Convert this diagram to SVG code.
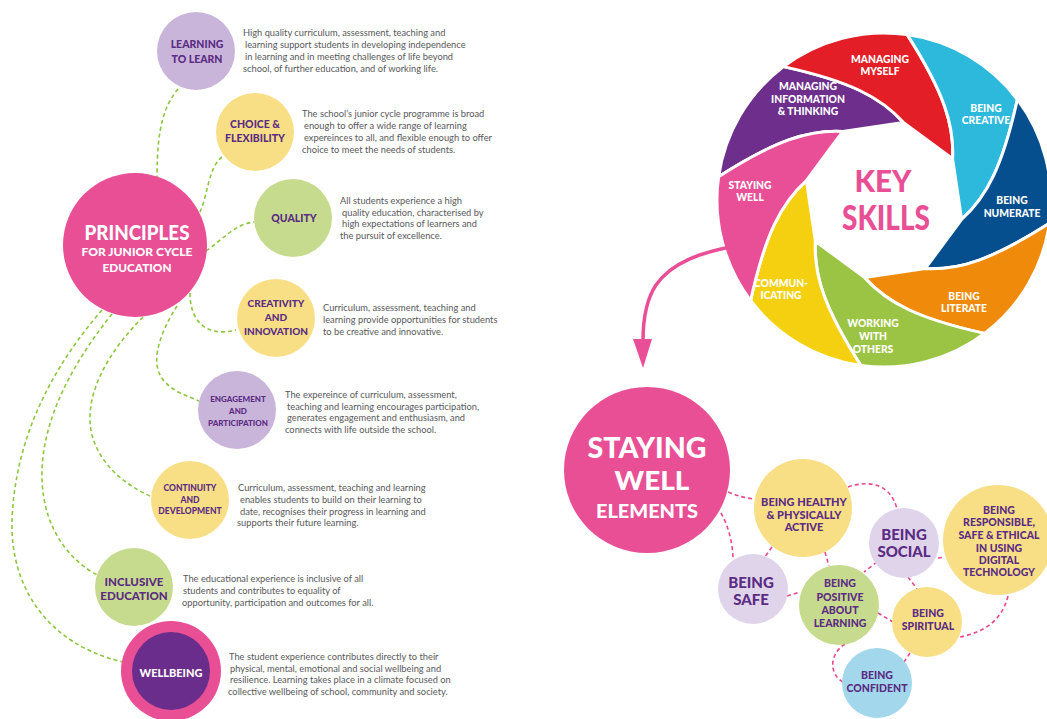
<svg xmlns="http://www.w3.org/2000/svg" xmlns:xlink="http://www.w3.org/1999/xlink" width="1047" height="719" viewBox="0 0 1047 719">
<style>
.lbl{font-family:Lato,"Open Sans","Liberation Sans",sans-serif;font-weight:900;fill:#5B2C83;text-anchor:middle}
.wl{font-family:Lato,"Open Sans","Liberation Sans",sans-serif;font-weight:900;fill:#ffffff;text-anchor:middle;font-size:10.3px}
.desc{font-family:Lato,"Liberation Sans",sans-serif;font-size:9.3px;fill:#58585a}
.gc{fill:none;stroke:#8DC63F;stroke-width:1.6;stroke-dasharray:4 3}
.pc{fill:none;stroke:#E5488D;stroke-width:1.6;stroke-dasharray:4 3}
.blade{stroke:#ffffff;stroke-width:3;stroke-linejoin:miter}
.lav{fill:#C9B5DA}.yel{fill:#F8DF86}.grn{fill:#C6DB8D}.lav2{fill:#E0D4EA}.blu{fill:#A2D7EC}
.title{font-family:Lato,"Open Sans","Liberation Sans",sans-serif;font-weight:900;fill:#ffffff;text-anchor:middle}
</style>
<defs>
<path id="blade" d="M -17.5,-166.1 C 31.8,-119.5 50.2,-89.8 56.6,-56.6 L 80,0 C 99,-28 107,-62 105.1,-129.8 A 167 167 0 0 0 -17.5,-166.1 Z"/>
</defs>
<rect width="1047" height="719" fill="#ffffff"/>

<!-- LEFT connectors -->
<g id="principle-connectors">
<path class="gc" d="M 178,89 C 165,105 157,125 157,177"/>
<path class="gc" d="M 222,157 C 208,168 208,195 200,212"/>
<path class="gc" d="M 206,251 C 222,240 235,224 254,222"/>
<path class="gc" d="M 190,293 C 190,320 205,338 236,330"/>
<path class="gc" d="M 177,306 C 165,325 150,355 160,375 C 168,390 185,395 199,401"/>
<path class="gc" d="M 143,317 C 110,350 82,395 92,435 C 100,465 125,485 152,497"/>
<path class="gc" d="M 112,314 C 75,360 40,420 42,480 C 44,530 70,560 97,575"/>
<path class="gc" d="M 102,310 C 50,370 15,440 12,520 C 10,590 50,645 123,662"/>
</g>

<g id="principles">
<circle cx="135" cy="245" r="72" fill="#E84F95"/>
<text class="title" x="137" y="240" font-size="20" textLength="105" lengthAdjust="spacingAndGlyphs">PRINCIPLES</text>
<text class="title" x="137" y="256" font-size="12" textLength="111" lengthAdjust="spacingAndGlyphs">FOR JUNIOR CYCLE</text>
<text class="title" x="137" y="272" font-size="12" textLength="69" lengthAdjust="spacingAndGlyphs">EDUCATION</text>
</g>

<g id="learning-to-learn">
<circle class="lav" cx="196" cy="51" r="39"/>
<text class="lbl" font-size="10.5" x="197" y="48">LEARNING</text>
<text class="lbl" font-size="10.5" x="197" y="63">TO LEARN</text>
<text class="desc"><tspan x="243" y="36">High quality curriculum, assessment, teaching and</tspan><tspan x="245" y="48">learning support students in developing independence</tspan><tspan x="245" y="60">in learning and in meeting challenges of life beyond</tspan><tspan x="243" y="72">school, of further education, and of working life.</tspan></text>
</g>

<g id="choice-flexibility">
<circle class="yel" cx="255" cy="132" r="39"/>
<text class="lbl" font-size="10.5" x="255" y="128">CHOICE &amp;</text>
<text class="lbl" font-size="10.5" x="255" y="142">FLEXIBILITY</text>
<text class="desc"><tspan x="302" y="117">The school’s junior cycle programme is broad</tspan><tspan x="304" y="129">enough to offer a wide range of learning</tspan><tspan x="304" y="141">expereinces to all, and flexible enough to offer</tspan><tspan x="302" y="153">choice to meet the needs of students.</tspan></text>
</g>

<g id="quality">
<circle class="grn" cx="293" cy="218" r="39"/>
<text class="lbl" font-size="10.5" x="294" y="222">QUALITY</text>
<text class="desc"><tspan x="340" y="204">All students experience a high</tspan><tspan x="342" y="216">quality education, characterised by</tspan><tspan x="342" y="227">high expectations of learners and</tspan><tspan x="340" y="239">the pursuit of excellence.</tspan></text>
</g>

<g id="creativity-innovation">
<circle class="yel" cx="276" cy="318" r="39"/>
<text class="lbl" font-size="10" x="276" y="306.5">CREATIVITY</text>
<text class="lbl" font-size="10" x="276" y="320.5">AND</text>
<text class="lbl" font-size="10" x="276" y="334.5">INNOVATION</text>
<text class="desc"><tspan x="323" y="311">Curriculum, assessment, teaching and</tspan><tspan x="323" y="323">learning provide opportunities for students</tspan><tspan x="323" y="335">to be creative and innovative.</tspan></text>
</g>

<g id="engagement-participation">
<circle class="lav" cx="237" cy="410" r="39"/>
<text class="lbl" font-size="8" x="238" y="402">ENGAGEMENT</text>
<text class="lbl" font-size="8" x="238" y="414">AND</text>
<text class="lbl" font-size="8" x="238" y="426">PARTICIPATION</text>
<text class="desc"><tspan x="285" y="398">The expereince of curriculum, assessment,</tspan><tspan x="287" y="410">teaching and learning encourages participation,</tspan><tspan x="287" y="421">generates engagement and enthusiasm, and</tspan><tspan x="285" y="433">connects with life outside the school.</tspan></text>
</g>

<g id="continuity-development">
<circle class="yel" cx="190" cy="500" r="39"/>
<text class="lbl" font-size="8.5" x="190" y="491">CONTINUITY</text>
<text class="lbl" font-size="8.5" x="190" y="503">AND</text>
<text class="lbl" font-size="8.5" x="190" y="514">DEVELOPMENT</text>
<text class="desc"><tspan x="238" y="491">Curriculum, assessment, teaching and learning</tspan><tspan x="240" y="503">enables students to build on their learning to</tspan><tspan x="240" y="515">date, recognises their progress in learning and</tspan><tspan x="237" y="526">supports their future learning.</tspan></text>
</g>

<g id="inclusive-education">
<circle class="grn" cx="134" cy="587" r="39"/>
<text class="lbl" font-size="11.5" x="134" y="586">INCLUSIVE</text>
<text class="lbl" font-size="11.5" x="134" y="600">EDUCATION</text>
<text class="desc"><tspan x="183" y="582">The educational experience is inclusive of all</tspan><tspan x="183" y="594">students and contributes to equality of</tspan><tspan x="182" y="606">opportunity, participation and outcomes for all.</tspan></text>
</g>

<g id="wellbeing">
<circle cx="171" cy="671" r="50" fill="#E84F95"/>
<circle cx="171" cy="671" r="39" fill="#6B2D8B"/>
<text class="title" font-size="11" x="171" y="677">WELLBEING</text>
<text class="desc"><tspan x="229" y="660">The student experience contributes directly to their</tspan><tspan x="230" y="672">physical, mental, emotional and social wellbeing and</tspan><tspan x="230" y="683">resilience. Learning takes place in a climate focused on</tspan><tspan x="228" y="695">collective wellbeing of school, community and society.</tspan></text>
</g>

<!-- KEY SKILLS wheel -->
<g id="key-skills">
<g transform="translate(884,200)">
<use xlink:href="#blade" class="blade" fill="#6D2E8C" transform="rotate(-76)"/>
<use xlink:href="#blade" class="blade" fill="#E31E26" transform="rotate(-31)"/>
<use xlink:href="#blade" class="blade" fill="#2CB9DB" transform="rotate(14)"/>
<use xlink:href="#blade" class="blade" fill="#064F8F" transform="rotate(59)"/>
<use xlink:href="#blade" class="blade" fill="#F08A0A" transform="rotate(104)"/>
<use xlink:href="#blade" class="blade" fill="#9CC444" transform="rotate(149)"/>
<use xlink:href="#blade" class="blade" fill="#F5D010" transform="rotate(194)"/>
<use xlink:href="#blade" class="blade" fill="#E84F96" transform="rotate(239)"/>
</g>
<text class="title" style="fill:#E84F95" font-size="30" x="883" y="192" textLength="57" lengthAdjust="spacingAndGlyphs">KEY</text>
<text class="title" style="fill:#E84F95" font-size="34" x="886" y="230" textLength="88" lengthAdjust="spacingAndGlyphs">SKILLS</text>
<text class="wl" x="808" y="89.5">MANAGING</text>
<text class="wl" x="808" y="102.5">INFORMATION</text>
<text class="wl" x="808" y="114.5">&amp; THINKING</text>
<text class="wl" x="880" y="62.5">MANAGING</text>
<text class="wl" x="880" y="74.5">MYSELF</text>
<text class="wl" x="986" y="111.5">BEING</text>
<text class="wl" x="986" y="123.5">CREATIVE</text>
<text class="wl" x="1012" y="203.5">BEING</text>
<text class="wl" x="1012" y="216.5">NUMERATE</text>
<text class="wl" x="964" y="299.5">BEING</text>
<text class="wl" x="964" y="311.5">LITERATE</text>
<text class="wl" x="873" y="326.5">WORKING</text>
<text class="wl" x="873" y="339.5">WITH</text>
<text class="wl" x="873" y="352.5">OTHERS</text>
<text class="wl" x="781" y="286.5">COMMUN-</text>
<text class="wl" x="781" y="298.5">ICATING</text>
<text class="wl" x="750" y="188.5">STAYING</text>
<text class="wl" x="750" y="200.5">WELL</text>
</g>

<g id="arrow">
<path d="M 736,246 C 702,252 672,262 656,285 C 646,300 643,320 643,341" fill="none" stroke="#E84F96" stroke-width="3.5"/>
<polygon points="633,339 652,339 643,368" fill="#E84F96"/>
</g>

<!-- Staying well connectors -->
<g id="wellbeing-connectors">
<path class="pc" d="M 728,492 Q 742,498 755,499"/>
<path class="pc" d="M 721,513 C 729,527 733,545 733,560"/>
<path class="pc" d="M 848,487 C 865,481 890,481 897,509"/>
<path class="pc" d="M 772,547 L 764,558"/>
<path class="pc" d="M 825,552 L 829,566"/>
<path class="pc" d="M 787,596 L 800,592"/>
<path class="pc" d="M 877,562 L 864,572"/>
<path class="pc" d="M 938,558 L 945,557"/>
<path class="pc" d="M 908,577 L 917,589"/>
<path class="pc" d="M 878,613 L 893,622"/>
<path class="pc" d="M 845,644 C 828,655 830,675 843,682"/>
<path class="pc" d="M 910,653 L 904,662"/>
<path class="pc" d="M 1008,596 C 1002,620 985,632 960,637"/>
</g>

<g id="staying-well">
<circle cx="647" cy="470" r="83" fill="#E84F95"/>
<text class="title" font-size="29" x="647" y="458" textLength="119" lengthAdjust="spacingAndGlyphs">STAYING</text>
<text class="title" font-size="26" x="652" y="490" textLength="75" lengthAdjust="spacingAndGlyphs">WELL</text>
<text class="title" font-size="19" x="647" y="518" textLength="102" lengthAdjust="spacingAndGlyphs">ELEMENTS</text>
</g>

<g id="being-healthy">
<circle class="yel" cx="803" cy="508" r="49"/>
<text class="lbl" font-size="11" x="804" y="506">BEING HEALTHY</text>
<text class="lbl" font-size="11" x="804" y="519">&amp; PHYSICALLY</text>
<text class="lbl" font-size="11" x="804" y="531">ACTIVE</text>
</g>

<g id="being-social">
<circle class="lav2" cx="904" cy="543" r="35"/>
<text class="lbl" font-size="15" x="904" y="539.5">BEING</text>
<text class="lbl" font-size="15" x="904" y="556.5">SOCIAL</text>
</g>

<g id="being-responsible">
<circle class="yel" cx="998" cy="540" r="55"/>
<text class="lbl" font-size="10.5" x="999" y="514">BEING</text>
<text class="lbl" font-size="10.5" x="999" y="526">RESPONSIBLE,</text>
<text class="lbl" font-size="10.5" x="999" y="539">SAFE &amp; ETHICAL</text>
<text class="lbl" font-size="10.5" x="999" y="552">IN USING</text>
<text class="lbl" font-size="10.5" x="999" y="564">DIGITAL</text>
<text class="lbl" font-size="10.5" x="999" y="576">TECHNOLOGY</text>
</g>

<g id="being-safe">
<circle class="lav2" cx="753" cy="589" r="35"/>
<text class="lbl" font-size="15" x="751" y="587.5">BEING</text>
<text class="lbl" font-size="15" x="751" y="604.5">SAFE</text>
</g>

<g id="being-positive">
<circle class="grn" cx="839" cy="605" r="40"/>
<text class="lbl" font-size="10.5" x="840" y="587">BEING</text>
<text class="lbl" font-size="10.5" x="840" y="601">POSITIVE</text>
<text class="lbl" font-size="10.5" x="840" y="614">ABOUT</text>
<text class="lbl" font-size="10.5" x="840" y="627">LEARNING</text>
</g>

<g id="being-spiritual">
<circle class="yel" cx="927" cy="622" r="35"/>
<text class="lbl" font-size="10.5" x="928" y="617">BEING</text>
<text class="lbl" font-size="10.5" x="928" y="630">SPIRITUAL</text>
</g>

<g id="being-confident">
<circle class="blu" cx="877" cy="683" r="35"/>
<text class="lbl" font-size="10.5" x="877" y="679">BEING</text>
<text class="lbl" font-size="10.5" x="877" y="692">CONFIDENT</text>
</g>
</svg>
